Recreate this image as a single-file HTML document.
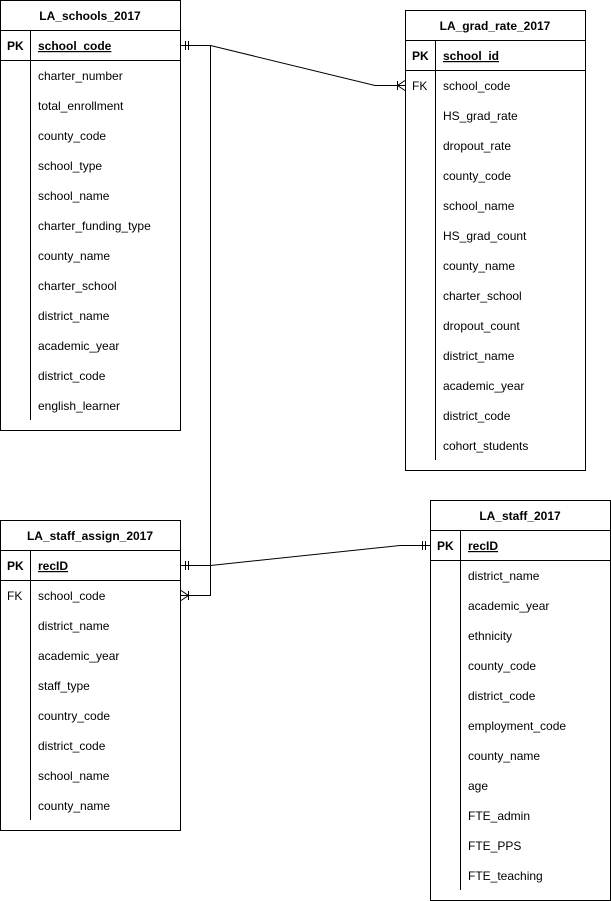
<!DOCTYPE html>
<html><head><meta charset="utf-8"><style>
html,body{margin:0;padding:0;background:#fff;}
svg{display:block;font-family:"Liberation Sans",Arial,sans-serif;}
.t{font-size:12px;font-weight:bold;text-anchor:middle;}
.k{font-size:12px;font-weight:bold;}
.f{font-size:12px;}
.u{font-size:12px;font-weight:bold;text-decoration:underline;}
</style></head><body>
<svg width="611" height="901" viewBox="0 0 611 901" xmlns="http://www.w3.org/2000/svg">
<g fill="none" stroke="#000" stroke-width="1">
<!-- table1 -->
<rect x="0.5" y="0.5" width="180" height="430"/>
<line x1="0" y1="30.5" x2="181" y2="30.5"/><line x1="0" y1="60.5" x2="181" y2="60.5"/>
<line x1="30.5" y1="30" x2="30.5" y2="60"/><line x1="30.5" y1="60" x2="30.5" y2="420"/>
<!-- table2 -->
<rect x="405.5" y="10.5" width="180" height="460"/>
<line x1="405" y1="40.5" x2="586" y2="40.5"/><line x1="405" y1="70.5" x2="586" y2="70.5"/>
<line x1="435.5" y1="40" x2="435.5" y2="460"/>
<!-- table3 -->
<rect x="0.5" y="520.5" width="180" height="310"/>
<line x1="0" y1="550.5" x2="181" y2="550.5"/><line x1="0" y1="580.5" x2="181" y2="580.5"/>
<line x1="30.5" y1="550" x2="30.5" y2="820"/>
<!-- table4 -->
<rect x="430.5" y="500.5" width="180" height="400"/>
<line x1="430" y1="530.5" x2="611" y2="530.5"/><line x1="430" y1="560.5" x2="611" y2="560.5"/>
<line x1="460.5" y1="530" x2="460.5" y2="890"/>
<!-- connectors -->
<polyline points="181,45.5 210.5,45.5 375,85.5 405,85.5"/>
<polyline points="210.5,45.5 210.5,595.5 181,595.5"/>
<polyline points="181,565.5 210.5,565.5 400,545.5 430,545.5"/>
<line x1="185.5" y1="41" x2="185.5" y2="50"/><line x1="188.5" y1="41" x2="188.5" y2="50"/>
<line x1="397.5" y1="81" x2="397.5" y2="90"/><polyline points="405,80.5 397.5,85.5 405,90.5"/>
<line x1="185.5" y1="561" x2="185.5" y2="570"/><line x1="188.5" y1="561" x2="188.5" y2="570"/>
<line x1="422.5" y1="541" x2="422.5" y2="550"/><line x1="425.5" y1="541" x2="425.5" y2="550"/>
<line x1="188.5" y1="591" x2="188.5" y2="600"/><polyline points="181,590.5 188.5,595.5 181,600.5"/>
</g>
<g fill="#000">
<text class="t" x="90" y="20">LA_schools_2017</text>
<text class="k" x="7" y="50">PK</text><text class="u" x="38" y="50">school_code</text>
<text class="f" x="38" y="80">charter_number</text>
<text class="f" x="38" y="110">total_enrollment</text>
<text class="f" x="38" y="140">county_code</text>
<text class="f" x="38" y="170">school_type</text>
<text class="f" x="38" y="200">school_name</text>
<text class="f" x="38" y="230">charter_funding_type</text>
<text class="f" x="38" y="260">county_name</text>
<text class="f" x="38" y="290">charter_school</text>
<text class="f" x="38" y="320">district_name</text>
<text class="f" x="38" y="350">academic_year</text>
<text class="f" x="38" y="380">district_code</text>
<text class="f" x="38" y="410">english_learner</text>

<text class="t" x="495" y="30">LA_grad_rate_2017</text>
<text class="k" x="412" y="60">PK</text><text class="u" x="443" y="60">school_id</text>
<text class="f" x="412" y="90">FK</text><text class="f" x="443" y="90">school_code</text>
<text class="f" x="443" y="120">HS_grad_rate</text>
<text class="f" x="443" y="150">dropout_rate</text>
<text class="f" x="443" y="180">county_code</text>
<text class="f" x="443" y="210">school_name</text>
<text class="f" x="443" y="240">HS_grad_count</text>
<text class="f" x="443" y="270">county_name</text>
<text class="f" x="443" y="300">charter_school</text>
<text class="f" x="443" y="330">dropout_count</text>
<text class="f" x="443" y="360">district_name</text>
<text class="f" x="443" y="390">academic_year</text>
<text class="f" x="443" y="420">district_code</text>
<text class="f" x="443" y="450">cohort_students</text>

<text class="t" x="90" y="540">LA_staff_assign_2017</text>
<text class="k" x="7" y="570">PK</text><text class="u" x="38" y="570">recID</text>
<text class="f" x="7" y="600">FK</text><text class="f" x="38" y="600">school_code</text>
<text class="f" x="38" y="630">district_name</text>
<text class="f" x="38" y="660">academic_year</text>
<text class="f" x="38" y="690">staff_type</text>
<text class="f" x="38" y="720">country_code</text>
<text class="f" x="38" y="750">district_code</text>
<text class="f" x="38" y="780">school_name</text>
<text class="f" x="38" y="810">county_name</text>

<text class="t" x="520" y="520">LA_staff_2017</text>
<text class="k" x="437" y="550">PK</text><text class="u" x="468" y="550">recID</text>
<text class="f" x="468" y="580">district_name</text>
<text class="f" x="468" y="610">academic_year</text>
<text class="f" x="468" y="640">ethnicity</text>
<text class="f" x="468" y="670">county_code</text>
<text class="f" x="468" y="700">district_code</text>
<text class="f" x="468" y="730">employment_code</text>
<text class="f" x="468" y="760">county_name</text>
<text class="f" x="468" y="790">age</text>
<text class="f" x="468" y="820">FTE_admin</text>
<text class="f" x="468" y="850">FTE_PPS</text>
<text class="f" x="468" y="880">FTE_teaching</text>
</g>
</svg>
</body></html>
